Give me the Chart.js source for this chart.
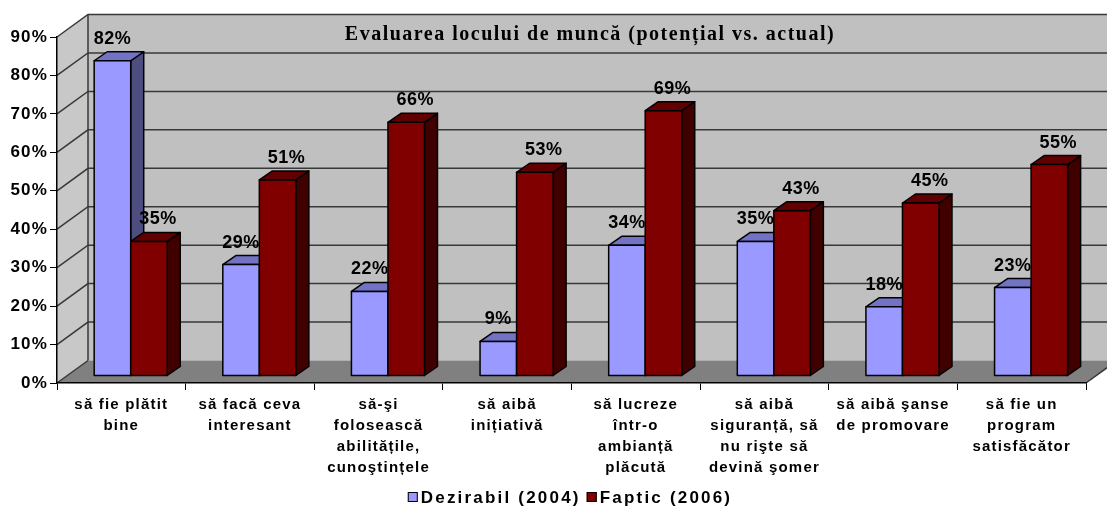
<!DOCTYPE html>
<html><head><meta charset="utf-8">
<script src="https://cdn.jsdelivr.net/npm/chart.js@4/dist/chart.umd.min.js"></script>
<style>html,body{margin:0;padding:0;background:#fff;} #wrap{width:1107px;height:506px;}</style>
</head><body><div id="wrap"><canvas id="c" width="1107" height="506"></canvas></div>
<script>
const chartTitle = 'Evaluarea locului de muncă (potențial vs. actual)';
const categories = [
  ['să fie plătit', 'bine'],
  ['să facă ceva', 'interesant'],
  ['să-şi', 'folosească', 'abilitățile,', 'cunoştințele'],
  ['să aibă', 'inițiativă'],
  ['să lucreze', 'într-o', 'ambianță', 'plăcută'],
  ['să aibă', 'siguranță, să', 'nu rişte să', 'devină şomer'],
  ['să aibă şanse', 'de promovare'],
  ['să fie un', 'program', 'satisfăcător']
];
const seriesNames = ['Dezirabil (2004)', 'Faptic (2006)'];
const dezirabil = [82, 29, 22, 9, 34, 35, 18, 23];
const faptic = [35, 51, 66, 53, 69, 43, 45, 55];
const yMin = 0, yMax = 90, yStep = 10;

const SANS = "'Liberation Sans', Arial, sans-serif";
const SERIF = "'Liberation Serif', 'Times New Roman', serif";
const colors = [
  {front: '#9999ff', top: '#7373c6', side: '#4d4d80'},
  {front: '#800000', top: '#600000', side: '#400000'}
];
const WALL_DX = 31, WALL_DY = -22.5;   // depth of the walls
const OFF_X = 9.4, OFF_Y = -7;         // bars set back from the front plane
const BOX_DX = 13, BOX_DY = -9;        // bar depth
const LABEL_SHIFT = [0, 9];
const SPACING = '1.2px';

function poly(ctx, pts, fill, stroke, lw) {
  ctx.beginPath();
  ctx.moveTo(pts[0][0], pts[0][1]);
  for (let i = 1; i < pts.length; i++) ctx.lineTo(pts[i][0], pts[i][1]);
  ctx.closePath();
  if (fill) { ctx.fillStyle = fill; ctx.fill(); }
  if (stroke) { ctx.strokeStyle = stroke; ctx.lineWidth = lw || 1; ctx.stroke(); }
}

const spacingPlugin = {
  id: 'spacing',
  beforeUpdate(chart) { chart.ctx.letterSpacing = SPACING; },
  beforeDraw(chart) { chart.ctx.letterSpacing = SPACING; }
};

const scenePlugin = {
  id: 'scene',
  beforeDraw(chart) {
    const ctx = chart.ctx;
    const a = chart.chartArea;
    const ys = chart.scales.y;
    const L = a.left, R = a.right, T = ys.getPixelForValue(yMax), B = ys.getPixelForValue(yMin);
    ctx.save();
    ctx.fillStyle = '#fff';
    ctx.fillRect(0, 0, chart.width, chart.height);
    // back wall
    poly(ctx, [[L + WALL_DX, T + WALL_DY], [R + WALL_DX, T + WALL_DY], [R + WALL_DX, B + WALL_DY], [L + WALL_DX, B + WALL_DY]], '#c0c0c0');
    // side wall
    poly(ctx, [[L, B], [L, T], [L + WALL_DX, T + WALL_DY], [L + WALL_DX, B + WALL_DY]], '#c8c8c8');
    // floor
    poly(ctx, [[L, B], [L + WALL_DX, B + WALL_DY], [R + WALL_DX, B + WALL_DY], [R, B]], '#808080');
    // grid lines
    ctx.strokeStyle = '#383838';
    ctx.lineWidth = 1.5;
    for (let v = yMin; v <= yMax; v += yStep) {
      const y = ys.getPixelForValue(v);
      ctx.beginPath();
      ctx.moveTo(L, y);
      ctx.lineTo(L + WALL_DX, y + WALL_DY);
      if (v > yMin) ctx.lineTo(R + WALL_DX, y + WALL_DY);
      ctx.stroke();
    }
    ctx.beginPath();
    ctx.moveTo(L + WALL_DX, T + WALL_DY);
    ctx.lineTo(L + WALL_DX, B + WALL_DY);
    ctx.moveTo(R, B);
    ctx.lineTo(R + WALL_DX, B + WALL_DY);
    ctx.stroke();
    // title
    ctx.letterSpacing = '1.5px';
    ctx.fillStyle = '#000';
    ctx.font = 'bold 20px ' + SERIF;
    ctx.textAlign = 'center';
    ctx.textBaseline = 'alphabetic';
    ctx.fillText(chartTitle, 590, 40);
    // legend
    ctx.font = 'bold 17px ' + SANS;
    ctx.letterSpacing = '2.2px';
    ctx.textAlign = 'left';
    ctx.textBaseline = 'middle';
    const box = 10, gapIn = 3, gapOut = 6;
    const widths = seriesNames.map(s => ctx.measureText(s).width);
    let total = 0;
    widths.forEach((w, i) => { total += box + gapIn + w + (i < widths.length - 1 ? gapOut : 0); });
    let x = 570 - total / 2;
    const ly = 497;
    seriesNames.forEach((s, i) => {
      ctx.fillStyle = colors[i].front;
      ctx.fillRect(x, ly - box / 2, box, box);
      ctx.strokeStyle = '#000';
      ctx.lineWidth = 1;
      ctx.strokeRect(x + 0.5, ly - box / 2 + 0.5, box - 1, box - 1);
      ctx.fillStyle = '#000';
      ctx.fillText(s, x + box + gapIn, ly + 1);
      x += box + gapIn + widths[i] + gapOut;
    });
    ctx.restore();
    chart.ctx.letterSpacing = SPACING;
  },
  beforeDatasetsDraw(chart) {
    const ctx = chart.ctx;
    const n = chart.data.labels.length;
    ctx.save();
    ctx.lineJoin = 'round';
    for (let i = 0; i < n; i++) {
      chart.data.datasets.forEach((ds, d) => {
        const el = chart.getDatasetMeta(d).data[i];
        const p = el.getProps(['x', 'y', 'base', 'width'], true);
        const x0 = p.x - p.width / 2 + OFF_X, x1 = p.x + p.width / 2 + OFF_X;
        const yt = p.y + OFF_Y, yb = p.base + OFF_Y;
        const c = colors[d];
        poly(ctx, [[x1, yt], [x1 + BOX_DX, yt + BOX_DY], [x1 + BOX_DX, yb + BOX_DY], [x1, yb]], c.side, '#000', 1.5);
        poly(ctx, [[x0, yt], [x0 + BOX_DX, yt + BOX_DY], [x1 + BOX_DX, yt + BOX_DY], [x1, yt]], c.top, '#000', 1.5);
        poly(ctx, [[x0, yt], [x1, yt], [x1, yb], [x0, yb]], c.front, '#000', 1.5);
      });
    }
    ctx.restore();
    return false;
  },
  afterDraw(chart) {
    const ctx = chart.ctx;
    ctx.save();
    ctx.letterSpacing = '0.5px';
    ctx.font = 'bold 18px ' + SANS;
    ctx.fillStyle = '#000';
    ctx.textAlign = 'center';
    ctx.textBaseline = 'alphabetic';
    chart.data.datasets.forEach((ds, d) => {
      chart.getDatasetMeta(d).data.forEach((el, i) => {
        const p = el.getProps(['x', 'y'], true);
        ctx.fillText(ds.data[i] + '%', p.x + OFF_X + LABEL_SHIFT[d], p.y + OFF_Y - 17);
      });
    });
    ctx.restore();
  }
};

new Chart(document.getElementById('c'), {
  type: 'bar',
  data: {
    labels: categories,
    datasets: [
      {label: seriesNames[0], data: dezirabil, backgroundColor: colors[0].front},
      {label: seriesNames[1], data: faptic, backgroundColor: colors[1].front}
    ]
  },
  options: {
    responsive: false,
    devicePixelRatio: 1,
    animation: false,
    layout: {padding: {top: 37, right: 21, left: 0, bottom: 0}},
    datasets: {bar: {categoryPercentage: 0.568, barPercentage: 1.0}},
    plugins: {legend: {display: false}, title: {display: false}, tooltip: {enabled: false}},
    scales: {
      x: {
        offset: true,
        grid: {offset: true, drawOnChartArea: false, drawTicks: true, tickLength: 7, color: '#000', lineWidth: 1},
        border: {display: true, color: '#000', width: 1.5},
        ticks: {font: {family: SANS, size: 15, weight: 'bold', lineHeight: 1.4}, color: '#000', padding: 4,
                maxRotation: 0, minRotation: 0, autoSkip: false},
        afterFit(s) { s.height = 123; }
      },
      y: {
        min: yMin, max: yMax,
        grid: {drawOnChartArea: false, drawTicks: true, tickLength: 7, color: '#000', lineWidth: 1},
        border: {display: true, color: '#000', width: 1.5},
        ticks: {stepSize: yStep, callback: v => v + '%', font: {family: SANS, size: 17, weight: 'bold'}, color: '#000', padding: 2},
        afterFit(s) { s.width = 57; }
      }
    }
  },
  plugins: [spacingPlugin, scenePlugin]
});
</script>
</body></html>
